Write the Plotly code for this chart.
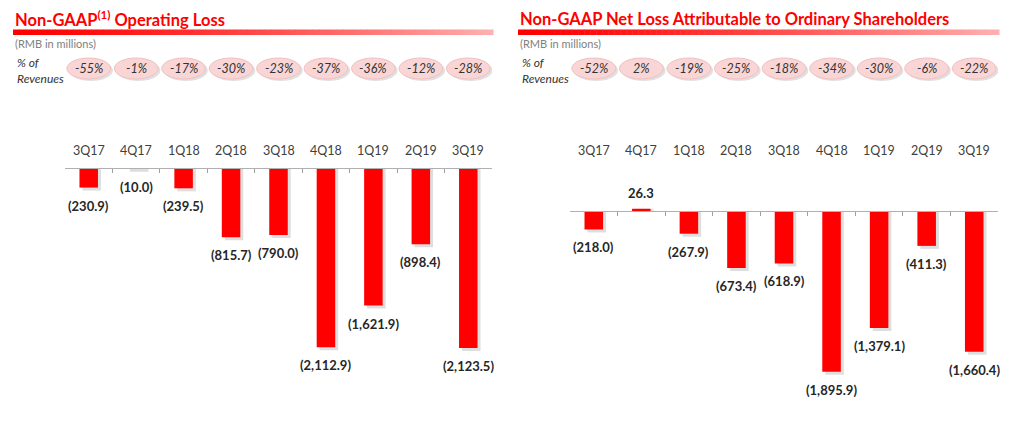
import plotly.graph_objects as go

W, H = 1024, 437

quarters = ["3Q17", "4Q17", "1Q18", "2Q18", "3Q18", "4Q18", "1Q19", "2Q19", "3Q19"]
op_loss = [-230.9, -10.0, -239.5, -815.7, -790.0, -2112.9, -1621.9, -898.4, -2123.5]
op_pct = ["-55%", "-1%", "-17%", "-30%", "-23%", "-37%", "-36%", "-12%", "-28%"]
net_loss = [-218.0, 26.3, -267.9, -673.4, -618.9, -1895.9, -1379.1, -411.3, -1660.4]
net_pct = ["-52%", "2%", "-19%", "-25%", "-18%", "-34%", "-30%", "-6%", "-22%"]

title_left = "Non-GAAP<sup>(1)</sup> Operating Loss"
title_right = "Non-GAAP Net Loss Attributable to Ordinary Shareholders"
unit_text = "(RMB in millions)"

FONT = "Lato"
RED = "#ff0000"
SCALE = 0.0848  # px per RMB million


def px_x(p):
    return p / W


def px_y(p):
    return 1 - p / H


def fmt(v):
    s = f"{abs(v):,.1f}"
    return f"({s})" if v < 0 else s


fig = go.Figure()

panels = [
    dict(xa="x", ya="y", x0=65, x1=492, zero=168, vals=op_loss, pct=op_pct,
         left=13, right=493, title=title_left),
    dict(xa="x2", ya="y2", x0=570, x1=998, zero=211, vals=net_loss, pct=net_pct,
         left=518, right=999, title=title_right),
]

shapes = []
annotations = []

for k, p in enumerate(panels):
    suffix = "" if k == 0 else "2"
    top = p["zero"] / SCALE
    bottom = -(H - p["zero"]) / SCALE
    # shadow bars
    sh_dx = 3 / 47.5
    sh_dy = 3 / SCALE
    fig.add_trace(go.Bar(
        x=list(range(9)), y=[v - sh_dy if v < 0 else v for v in p["vals"]],
        width=0.39, offset=-0.195 + sh_dx,
        marker=dict(color="rgba(0,0,0,0.13)", line=dict(width=0)),
        xaxis=p["xa"], yaxis=p["ya"], hoverinfo="skip", showlegend=False,
    ))
    fig.add_trace(go.Bar(
        x=list(range(9)), y=p["vals"], width=0.39, offset=-0.195,
        marker=dict(color=RED, line=dict(width=0)),
        xaxis=p["xa"], yaxis=p["ya"], showlegend=False,
    ))
    fig.layout["xaxis" + suffix] = dict(
        domain=[px_x(p["x0"]), px_x(p["x1"])], range=[-0.5, 8.5],
        anchor="free", position=px_y(p["zero"]), side="top",
        showline=True, linecolor="#b0b0b0", linewidth=1,
        ticks="inside", ticklen=4, tickcolor="#a0a0a0",
        tickmode="array", tickvals=[i - 0.5 for i in range(9)],
        showticklabels=False, showgrid=False, zeroline=False, fixedrange=True,
    )
    fig.layout["yaxis" + suffix] = dict(
        domain=[0, 1], range=[bottom, top], visible=False, showgrid=False,
        zeroline=False, fixedrange=True,
        anchor="x" + suffix,
    )
    # category labels
    for i, q in enumerate(quarters):
        annotations.append(dict(
            x=i, xref=p["xa"], y=px_y(150), yref="paper", text=q, showarrow=False,
            xanchor="center", yanchor="middle",
            font=dict(family=FONT, size=12.5, color="#404040"),
        ))
    # value labels
    for i, v in enumerate(p["vals"]):
        annotations.append(dict(
            x=i, xref=p["xa"], y=v, yref=p["ya"], text=fmt(v), showarrow=False,
            xanchor="center",
            yanchor="top" if v < 0 else "bottom", yshift=-8 if v < 0 else 6,
            font=dict(family=FONT, size=13, color="#262626", weight="bold"),
        ))
    # pills
    for i, t in enumerate(p["pct"]):
        shapes.append(dict(
            type="circle", xref=p["xa"], yref="paper",
            x0=i - 0.46 + 0.05, x1=i + 0.46 + 0.05,
            y0=px_y(81), y1=px_y(60), fillcolor="rgba(0,0,0,0.12)",
            line=dict(width=0), layer="below",
        ))
        shapes.append(dict(
            type="circle", xref=p["xa"], yref="paper",
            x0=i - 0.46, x1=i + 0.46, y0=px_y(79), y1=px_y(58),
            fillcolor="#f9d5d5", line=dict(color="#f0c0c0", width=1), layer="below",
        ))
        annotations.append(dict(
            x=i, xref=p["xa"], y=px_y(68.5), yref="paper", text=t, showarrow=False,
            xanchor="center", yanchor="middle",
            font=dict(family=FONT, size=12.5, color="#333333", style="italic"),
        ))
    # title
    annotations.append(dict(
        x=px_x(p["left"]), y=px_y(19), xref="paper", yref="paper", text=p["title"],
        xanchor="left", yanchor="middle", showarrow=False,
        font=dict(family=FONT, size=16.5, color=RED, weight="bold"),
    ))
    # gradient underline
    n = 80
    span = p["right"] - p["left"]
    for s in range(n):
        t = s / (n - 1)
        g = int(175 * t ** 1.3)
        color = f"rgb(255,{g},{g})"
        shapes.append(dict(
            type="rect", xref="paper", yref="paper",
            x0=px_x(p["left"] + span * s / n), x1=px_x(p["left"] + span * (s + 1) / n + 0.5),
            y0=px_y(35), y1=px_y(29.5), fillcolor=color, line=dict(width=0),
        ))
    annotations.append(dict(
        x=px_x(p["left"]), y=px_y(43.5), xref="paper", yref="paper", text=unit_text,
        xanchor="left", yanchor="middle", showarrow=False,
        font=dict(family=FONT, size=11, color="#808080"),
    ))
    annotations.append(dict(
        x=px_x(p["left"] + 2), y=px_y(70.5), xref="paper", yref="paper",
        text="% of<br>Revenues", align="left",
        xanchor="left", yanchor="middle", showarrow=False,
        font=dict(family=FONT, size=12, color="#333333", style="italic"),
    ))

fig.update_layout(
    width=W, height=H, margin=dict(l=0, r=0, t=0, b=0),
    paper_bgcolor="white", plot_bgcolor="rgba(0,0,0,0)",
    barmode="overlay", showlegend=False,
    shapes=shapes, annotations=annotations,
)

fig.write_html("out.html")
